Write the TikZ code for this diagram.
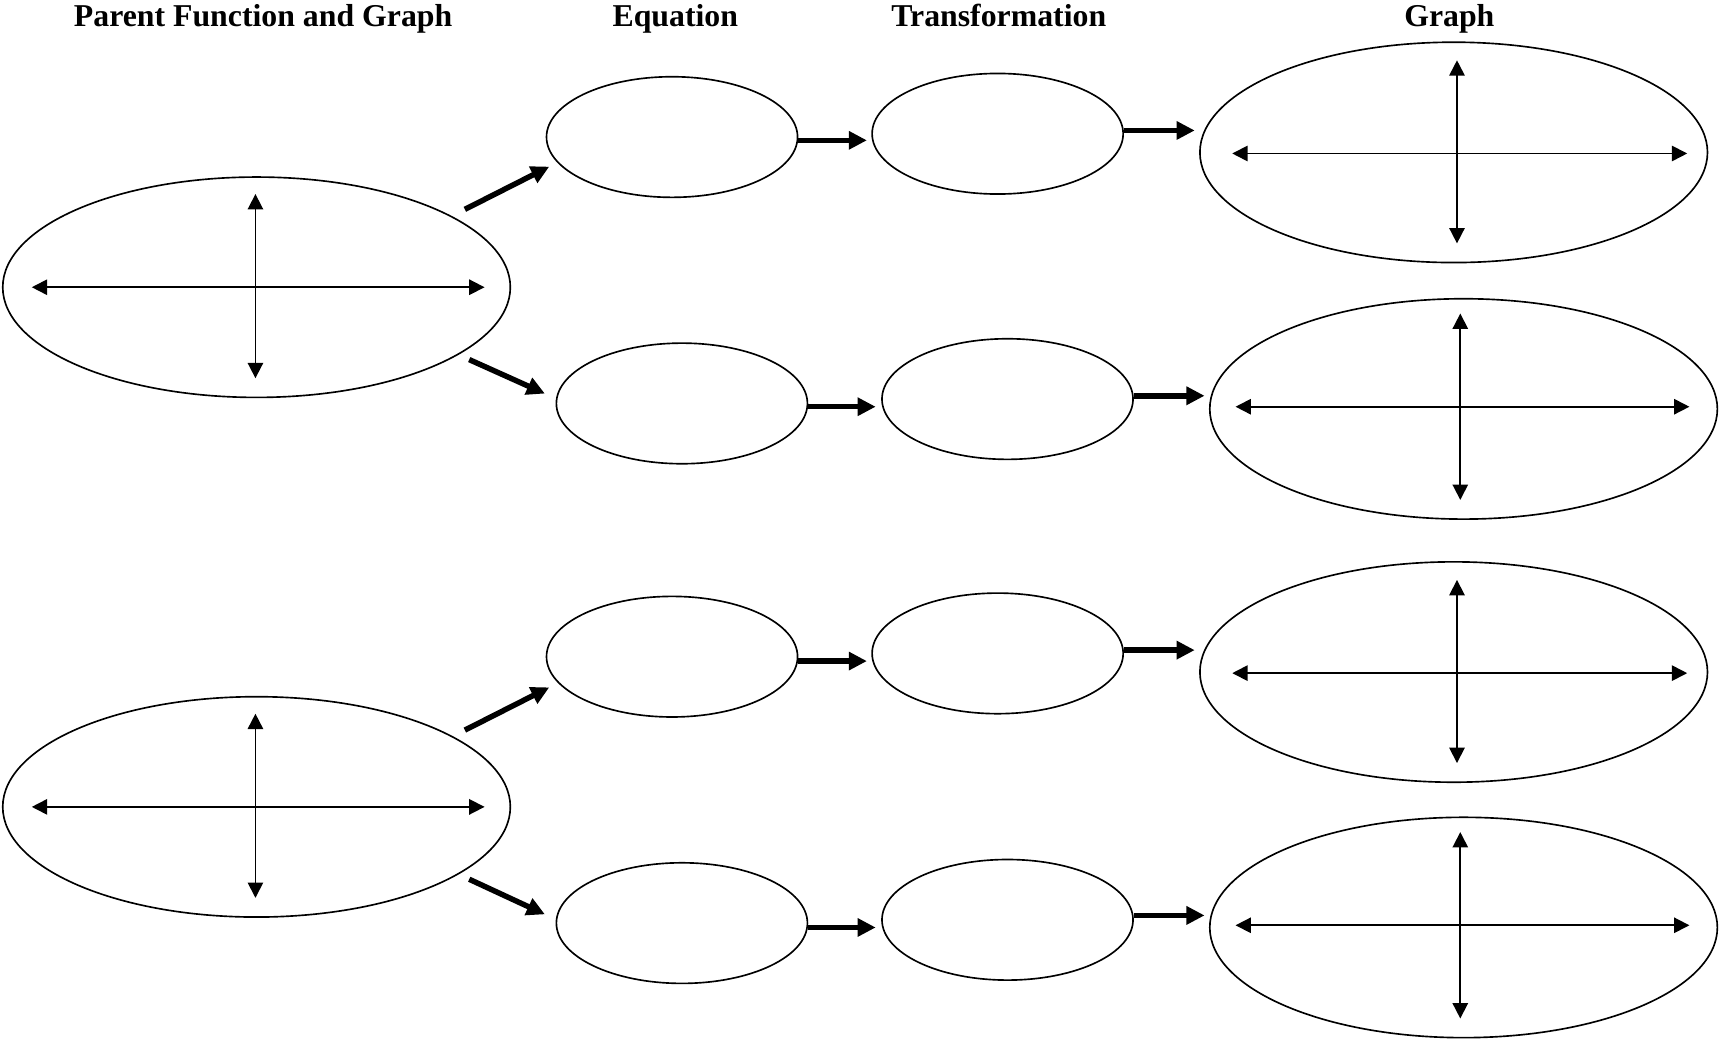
\documentclass[tikz,border=0pt]{standalone}
\usepackage{fontspec}
\setmainfont{Liberation Serif}
\usetikzlibrary{shapes.geometric,arrows.meta}
\tikzset{
  bigoval/.style={draw,ellipse,line width=1.5pt,inner sep=0pt,minimum width=463pt,minimum height=201pt},
  smalloval/.style={draw,ellipse,line width=1.5pt,inner sep=0pt,minimum width=229pt,minimum height=110pt},
  axis/.style={line width=1.6pt,{Triangle[length=14pt,width=14pt]}-{Triangle[length=14pt,width=14pt]}},
  bigarrow/.style={line width=5pt,-{Triangle[length=16.5pt,width=16pt]}},
  head/.style={font=\fontsize{29}{34}\selectfont\bfseries,anchor=base}
}
\begin{document}
\begin{tikzpicture}[x=1pt,y=-1pt]
\useasboundingbox (0,0) rectangle (1568,950);
% headings
\node[head] (h1) at (240,24) {Parent Function and Graph};
\node[head] (h2) at (616,24) {Equation};
\node[head] (h3) at (911,24) {Transformation};
\node[head] (h4) at (1322,24) {Graph};
% parent ellipses
\node[bigoval] (p1) at (234,262) {};
\node[bigoval] (p2) at (234,736) {};
% equation ellipses
\node[smalloval] (e1) at (613,125) {};
\node[smalloval] (e2) at (622,368) {};
\node[smalloval] (e3) at (613,599) {};
\node[smalloval] (e4) at (622,842) {};
% transformation ellipses
\node[smalloval] (t1) at (910,122) {};
\node[smalloval] (t2) at (919,364) {};
\node[smalloval] (t3) at (910,596) {};
\node[smalloval] (t4) at (919,839) {};
% graph ellipses
\node[bigoval] (g1) at (1326,139) {};
\node[bigoval] (g2) at (1335,373) {};
\node[bigoval] (g3) at (1326,613) {};
\node[bigoval] (g4) at (1335,846) {};
% axes in parent ellipses
\foreach \n in {p1,p2}{
  \draw[axis] ([shift={(-205,0)}]\n.center) -- ([shift={(208,0)}]\n.center);
  \draw[axis] ([shift={(-1,-85)}]\n.center) -- ([shift={(-1,83)}]\n.center);
}
% axes in graph ellipses
\foreach \n in {g1,g3}{
  \draw[axis] ([shift={(-202,1)}]\n.center) -- ([shift={(213,1)}]\n.center);
  \draw[axis] ([shift={(3,-84)}]\n.center) -- ([shift={(3,83)}]\n.center);
}
\foreach \n in {g2,g4}{
  \draw[axis] ([shift={(-208,-2)}]\n.center) -- ([shift={(206,-2)}]\n.center);
  \draw[axis] ([shift={(-3,-87)}]\n.center) -- ([shift={(-3,83)}]\n.center);
}
% parent -> equation
\draw[bigarrow] ([shift={(190,-71)}]p1.center) -- ([shift={(-112,27)}]e1.center);
\draw[bigarrow] ([shift={(194,66)}]p1.center) -- ([shift={(-125,-9)}]e2.center);
\draw[bigarrow] ([shift={(190,-70)}]p2.center) -- ([shift={(-112,28)}]e3.center);
\draw[bigarrow] ([shift={(194,66)}]p2.center) -- ([shift={(-125,-8)}]e4.center);
% equation -> transformation
\draw[bigarrow,shorten >=4pt] ([shift={(0,3)}]e1.east) -- ([shift={(0,3)}]e1.east -| t1.west);
\draw[bigarrow,shorten >=5pt] ([shift={(0,3)}]e2.east) -- ([shift={(0,3)}]e2.east -| t2.west);
\draw[bigarrow,shorten >=4pt] ([shift={(0,4)}]e3.east) -- ([shift={(0,4)}]e3.east -| t3.west);
\draw[bigarrow,shorten >=5pt] ([shift={(0,4)}]e4.east) -- ([shift={(0,4)}]e4.east -| t4.west);
% transformation -> graph
\draw[bigarrow,shorten >=4pt] ([shift={(0,-3)}]t1.east) -- ([shift={(0,-3)}]t1.east -| g1.west);
\draw[bigarrow,shorten >=4pt] ([shift={(0,-3)}]t2.east) -- ([shift={(0,-3)}]t2.east -| g2.west);
\draw[bigarrow,shorten >=4pt] ([shift={(0,-3)}]t3.east) -- ([shift={(0,-3)}]t3.east -| g3.west);
\draw[bigarrow,shorten >=4pt] ([shift={(0,-4)}]t4.east) -- ([shift={(0,-4)}]t4.east -| g4.west);
\end{tikzpicture}
\end{document}
